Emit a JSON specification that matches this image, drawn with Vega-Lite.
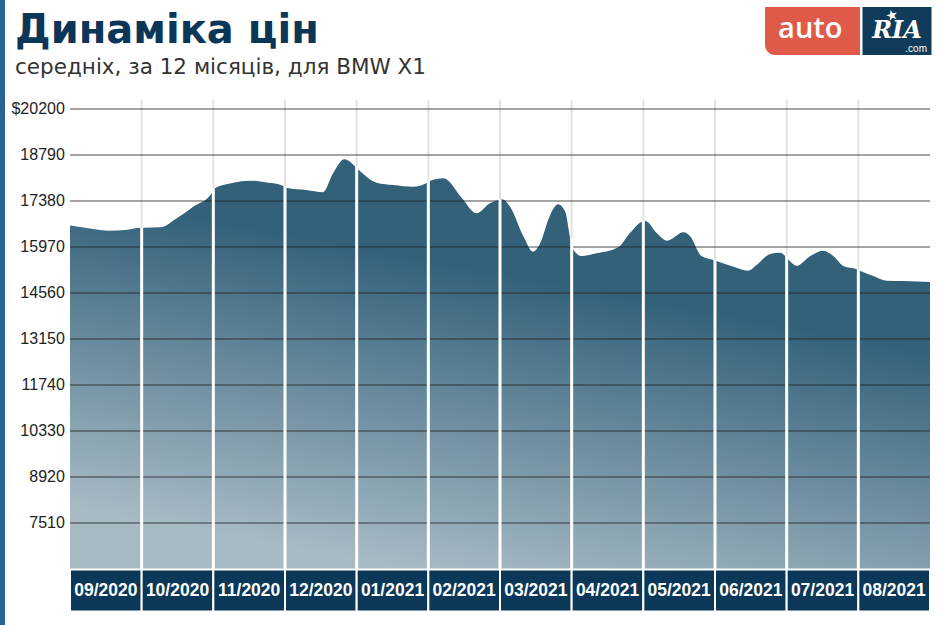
{
  "$schema": "https://vega.github.io/schema/vega-lite/v6.json",
  "width": 860,
  "height": 460,
  "autosize": {"type": "none"},
  "padding": {"left": 70, "top": 109, "right": 10, "bottom": 56},
  "background": "#ffffff",
  "config": {"view": {"stroke": null}, "font": "Liberation Sans"},
  "datasets": {
    "series": [
      {"m": 0.0, "v": 16630}, {"m": 0.28, "v": 16537}, {"m": 0.56, "v": 16470}, {"m": 0.77, "v": 16490}, {"m": 0.98, "v": 16562},
      {"m": 1.02, "v": 16562}, {"m": 1.26, "v": 16574}, {"m": 1.49, "v": 16850}, {"m": 1.72, "v": 17205}, {"m": 1.97, "v": 17595},
      {"m": 2.02, "v": 17769}, {"m": 2.28, "v": 17941}, {"m": 2.51, "v": 18002}, {"m": 2.7, "v": 17962}, {"m": 2.98, "v": 17840},
      {"m": 3.02, "v": 17788}, {"m": 3.3, "v": 17717}, {"m": 3.53, "v": 17650}, {"m": 3.67, "v": 18229}, {"m": 3.83, "v": 18658}, {"m": 3.98, "v": 18438},
      {"m": 4.02, "v": 18352}, {"m": 4.28, "v": 17941}, {"m": 4.51, "v": 17871}, {"m": 4.79, "v": 17819}, {"m": 4.98, "v": 17941},
      {"m": 5.02, "v": 17993}, {"m": 5.21, "v": 18076}, {"m": 5.47, "v": 17463}, {"m": 5.67, "v": 17003}, {"m": 5.86, "v": 17310}, {"m": 5.98, "v": 17411},
      {"m": 6.03, "v": 17432}, {"m": 6.14, "v": 17205}, {"m": 6.33, "v": 16286}, {"m": 6.46, "v": 15826}, {"m": 6.56, "v": 16084}, {"m": 6.7, "v": 16951}, {"m": 6.81, "v": 17279}, {"m": 6.91, "v": 17052}, {"m": 6.98, "v": 16237},
      {"m": 7.02, "v": 15900}, {"m": 7.14, "v": 15694}, {"m": 7.35, "v": 15777}, {"m": 7.65, "v": 15961}, {"m": 7.81, "v": 16390}, {"m": 7.98, "v": 16746},
      {"m": 8.03, "v": 16767}, {"m": 8.19, "v": 16390}, {"m": 8.33, "v": 16163}, {"m": 8.56, "v": 16421}, {"m": 8.65, "v": 16307}, {"m": 8.81, "v": 15694}, {"m": 8.98, "v": 15572},
      {"m": 9.02, "v": 15541}, {"m": 9.26, "v": 15366}, {"m": 9.46, "v": 15244}, {"m": 9.58, "v": 15419}, {"m": 9.77, "v": 15756}, {"m": 9.91, "v": 15796}, {"m": 9.98, "v": 15694},
      {"m": 10.03, "v": 15572}, {"m": 10.14, "v": 15397}, {"m": 10.33, "v": 15694}, {"m": 10.51, "v": 15857}, {"m": 10.67, "v": 15655}, {"m": 10.79, "v": 15388}, {"m": 10.98, "v": 15287},
      {"m": 11.02, "v": 15244}, {"m": 11.21, "v": 15081}, {"m": 11.4, "v": 14937}, {"m": 11.63, "v": 14928}, {"m": 12.0, "v": 14897}
    ],
    "bounds": [
      {"m": 1, "top": 16562}, {"m": 2, "top": 17769}, {"m": 3, "top": 17840}, {"m": 4, "top": 18438},
      {"m": 5, "top": 17993}, {"m": 6, "top": 17432}, {"m": 7, "top": 16237}, {"m": 8, "top": 16767},
      {"m": 9, "top": 15572}, {"m": 10, "top": 15694}, {"m": 11, "top": 15287}
    ],
    "ticks": [
      {"t": 7510, "lab": "7510"}, {"t": 8920, "lab": "8920"}, {"t": 10330, "lab": "10330"},
      {"t": 11740, "lab": "11740"}, {"t": 13150, "lab": "13150"}, {"t": 14560, "lab": "14560"},
      {"t": 15970, "lab": "15970"}, {"t": 17380, "lab": "17380"}, {"t": 18790, "lab": "18790"},
      {"t": 20200, "lab": "$20200"}
    ],
    "months": [
      {"label": "09/2020", "s": 0, "e": 1, "c": 0.5}, {"label": "10/2020", "s": 1, "e": 2, "c": 1.5},
      {"label": "11/2020", "s": 2, "e": 3, "c": 2.5}, {"label": "12/2020", "s": 3, "e": 4, "c": 3.5},
      {"label": "01/2021", "s": 4, "e": 5, "c": 4.5}, {"label": "02/2021", "s": 5, "e": 6, "c": 5.5},
      {"label": "03/2021", "s": 6, "e": 7, "c": 6.5}, {"label": "04/2021", "s": 7, "e": 8, "c": 7.5},
      {"label": "05/2021", "s": 8, "e": 9, "c": 8.5}, {"label": "06/2021", "s": 9, "e": 10, "c": 9.5},
      {"label": "07/2021", "s": 10, "e": 11, "c": 10.5}, {"label": "08/2021", "s": 11, "e": 12, "c": 11.5}
    ]
  },
  "layer": [
    {
      "data": {"name": "series"},
      "mark": {
        "type": "area",
        "interpolate": "monotone",
        "fill": {
          "gradient": "linear",
          "x1": 0.8, "y1": 0.391, "x2": 0.542, "y2": 1.061,
          "stops": [
            {"offset": 0, "color": "#33617a"},
            {"offset": 1, "color": "#a8bbc5"}
          ]
        }
      },
      "encoding": {
        "x": {"field": "m", "type": "quantitative", "scale": {"domain": [0, 12], "nice": false, "zero": false}, "axis": null},
        "y": {"field": "v", "type": "quantitative", "scale": {"domain": [6100, 20200], "nice": false, "zero": false}, "axis": null},
        "y2": {"datum": 6100}
      }
    },
    {
      "data": {"name": "bounds"},
      "mark": {"type": "rule", "color": "#e2e2e2", "strokeWidth": 2, "clip": false},
      "encoding": {
        "x": {"field": "m", "type": "quantitative", "scale": {"domain": [0, 12], "nice": false, "zero": false}, "axis": null},
        "y": {"field": "top", "type": "quantitative", "scale": {"domain": [6100, 20200], "nice": false, "zero": false}, "axis": null},
        "y2": {"datum": 20480}
      }
    },
    {
      "data": {"name": "ticks"},
      "mark": {"type": "rule", "color": "#222222", "opacity": 0.55, "strokeWidth": 1.6, "clip": false},
      "encoding": {
        "x": {"datum": 0, "type": "quantitative", "scale": {"domain": [0, 12], "nice": false, "zero": false}, "axis": null},
        "x2": {"datum": 12},
        "y": {"field": "t", "type": "quantitative", "scale": {"domain": [6100, 20200], "nice": false, "zero": false}, "axis": null}
      }
    },
    {
      "data": {"name": "ticks"},
      "mark": {"type": "text", "font": "Liberation Sans", "fontSize": 16, "color": "#222222", "align": "right", "baseline": "middle", "clip": false},
      "encoding": {
        "x": {"datum": -0.072, "type": "quantitative", "scale": {"domain": [0, 12], "nice": false, "zero": false}, "axis": null},
        "y": {"field": "t", "type": "quantitative", "scale": {"domain": [6100, 20200], "nice": false, "zero": false}, "axis": null},
        "text": {"field": "lab", "type": "nominal"}
      }
    },
    {
      "data": {"name": "bounds"},
      "mark": {"type": "rule", "color": "#ffffff", "strokeWidth": 3, "clip": false},
      "encoding": {
        "x": {"field": "m", "type": "quantitative", "scale": {"domain": [0, 12], "nice": false, "zero": false}, "axis": null},
        "y": {"field": "top", "type": "quantitative", "scale": {"domain": [6100, 20200], "nice": false, "zero": false}, "axis": null},
        "y2": {"datum": 6100}
      }
    },
    {
      "data": {"name": "months"},
      "mark": {"type": "rect", "fill": "#0b3858", "stroke": "#ffffff", "strokeWidth": 2, "clip": false},
      "encoding": {
        "x": {"field": "s", "type": "quantitative", "scale": {"domain": [0, 12], "nice": false, "zero": false}, "axis": null},
        "x2": {"field": "e"},
        "y": {"datum": 6085, "type": "quantitative", "scale": {"domain": [6100, 20200], "nice": false, "zero": false}, "axis": null},
        "y2": {"datum": 4797}
      }
    },
    {
      "data": {"name": "months"},
      "mark": {"type": "text", "color": "#ffffff", "font": "Liberation Sans", "fontSize": 17.5, "fontWeight": "bold", "align": "center", "baseline": "middle", "clip": false},
      "encoding": {
        "x": {"field": "c", "type": "quantitative", "scale": {"domain": [0, 12], "nice": false, "zero": false}, "axis": null},
        "y": {"datum": 5426, "type": "quantitative", "scale": {"domain": [6100, 20200], "nice": false, "zero": false}, "axis": null},
        "text": {"field": "label", "type": "nominal"}
      }
    },
    {
      "data": {"values": [{}]},
      "mark": {"type": "rect", "fill": "#2a6296", "clip": false},
      "encoding": {
        "x": {"datum": -0.977, "type": "quantitative", "scale": {"domain": [0, 12], "nice": false, "zero": false}, "axis": null},
        "x2": {"datum": -0.907},
        "y": {"datum": 23600, "type": "quantitative", "scale": {"domain": [6100, 20200], "nice": false, "zero": false}, "axis": null},
        "y2": {"datum": 4300}
      }
    },
    {
      "data": {"values": [{}]},
      "mark": {"type": "text", "text": "Динаміка цін", "font": "DejaVu Sans", "fontWeight": "bold", "fontSize": 40, "color": "#0c3657", "align": "left", "baseline": "alphabetic", "clip": false},
      "encoding": {
        "x": {"datum": -0.767, "type": "quantitative", "scale": {"domain": [0, 12], "nice": false, "zero": false}, "axis": null},
        "y": {"datum": 22223, "type": "quantitative", "scale": {"domain": [6100, 20200], "nice": false, "zero": false}, "axis": null}
      }
    },
    {
      "data": {"values": [{}]},
      "mark": {"type": "text", "text": "середніх, за 12 місяців, для BMW X1", "font": "DejaVu Sans", "fontSize": 21.5, "color": "#333333", "align": "left", "baseline": "alphabetic", "clip": false},
      "encoding": {
        "x": {"datum": -0.767, "type": "quantitative", "scale": {"domain": [0, 12], "nice": false, "zero": false}, "axis": null},
        "y": {"datum": 21273, "type": "quantitative", "scale": {"domain": [6100, 20200], "nice": false, "zero": false}, "axis": null}
      }
    },
    {
      "data": {"values": [{}]},
      "mark": {"type": "rect", "fill": "#e05a49", "cornerRadiusBottomLeft": 10, "clip": false},
      "encoding": {
        "x": {"datum": 9.698, "type": "quantitative", "scale": {"domain": [0, 12], "nice": false, "zero": false}, "axis": null},
        "x2": {"datum": 11.023},
        "y": {"datum": 23327, "type": "quantitative", "scale": {"domain": [6100, 20200], "nice": false, "zero": false}, "axis": null},
        "y2": {"datum": 21855}
      }
    },
    {
      "data": {"values": [{}]},
      "mark": {"type": "rect", "fill": "#113b5a", "clip": false},
      "encoding": {
        "x": {"datum": 11.058, "type": "quantitative", "scale": {"domain": [0, 12], "nice": false, "zero": false}, "axis": null},
        "x2": {"datum": 12.021},
        "y": {"datum": 23327, "type": "quantitative", "scale": {"domain": [6100, 20200], "nice": false, "zero": false}, "axis": null},
        "y2": {"datum": 21855}
      }
    },
    {
      "data": {"values": [{}]},
      "mark": {"type": "text", "text": "auto", "font": "Open Sans", "fontWeight": 600, "fontSize": 29, "color": "#ffffff", "align": "center", "baseline": "alphabetic", "clip": false},
      "encoding": {
        "x": {"datum": 10.33, "type": "quantitative", "scale": {"domain": [0, 12], "nice": false, "zero": false}, "axis": null},
        "y": {"datum": 22367, "type": "quantitative", "scale": {"domain": [6100, 20200], "nice": false, "zero": false}, "axis": null}
      }
    },
    {
      "data": {"values": [{}]},
      "mark": {"type": "text", "text": "RIA", "font": "DejaVu Serif", "fontWeight": "bold", "fontStyle": "italic", "fontSize": 24, "color": "#ffffff", "align": "center", "baseline": "alphabetic", "clip": false},
      "encoding": {
        "x": {"datum": 11.54, "type": "quantitative", "scale": {"domain": [0, 12], "nice": false, "zero": false}, "axis": null},
        "y": {"datum": 22376, "type": "quantitative", "scale": {"domain": [6100, 20200], "nice": false, "zero": false}, "axis": null}
      }
    },
    {
      "data": {"values": [{}]},
      "mark": {"type": "text", "text": "★", "font": "DejaVu Sans", "fontSize": 14, "color": "#ffffff", "align": "center", "baseline": "middle", "angle": -15, "clip": false},
      "encoding": {
        "x": {"datum": 11.47, "type": "quantitative", "scale": {"domain": [0, 12], "nice": false, "zero": false}, "axis": null},
        "y": {"datum": 23051, "type": "quantitative", "scale": {"domain": [6100, 20200], "nice": false, "zero": false}, "axis": null}
      }
    },
    {
      "data": {"values": [{}]},
      "mark": {"type": "text", "text": ".com", "font": "Liberation Sans", "fontSize": 10, "color": "#ffffff", "align": "right", "baseline": "alphabetic", "clip": false},
      "encoding": {
        "x": {"datum": 11.958, "type": "quantitative", "scale": {"domain": [0, 12], "nice": false, "zero": false}, "axis": null},
        "y": {"datum": 21947, "type": "quantitative", "scale": {"domain": [6100, 20200], "nice": false, "zero": false}, "axis": null}
      }
    }
  ]
}
